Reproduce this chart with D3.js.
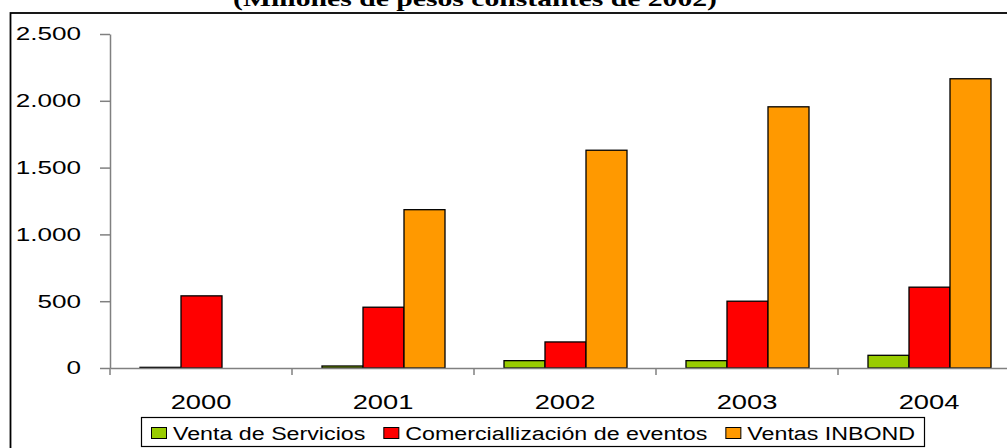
<!DOCTYPE html>
<html>
<head>
<meta charset="utf-8">
<script src="https://cdn.jsdelivr.net/npm/d3@7"></script>
<style>
  html, body { margin: 0; padding: 0; background: #fff; }
  svg { display: block; }
  .sans { font-family: "Liberation Sans", Arial, sans-serif; }
  .serif { font-family: "Liberation Serif", "Times New Roman", serif; }
</style>
</head>
<body>
<svg id="chart" width="1007" height="448"></svg>
<script>
const title = "(Millones de pesos constantes de 2002)";
const years = ["2000", "2001", "2002", "2003", "2004"];
const seriesNames = ["Venta de Servicios", "Comerciallización de eventos", "Ventas INBOND"];
const ventaServicios = [5, 15, 55, 55, 95];
const comercializacion = [540, 455, 195, 500, 605];
const ventasInbond = [0, 1185, 1630, 1955, 2165];
const yTicks = [0, 500, 1000, 1500, 2000, 2500];
const colors = ["#99CC00", "#FF0000", "#FF9900"];

const allSeries = [ventaServicios, comercializacion, ventasInbond];
const svg = d3.select("#chart");

function stretch(sel, factor) {
  sel.each(function () {
    const w = this.getComputedTextLength();
    d3.select(this).attr("textLength", w * factor).attr("lengthAdjust", "spacingAndGlyphs");
  });
}

// outer border
svg.append("rect")
  .attr("x", 10.5).attr("y", 13)
  .attr("width", 1100).attr("height", 500)
  .attr("fill", "none").attr("stroke", "#000").attr("stroke-width", 1.8);

// title (partly cut off at the top, as in the reference)
svg.append("text")
  .attr("class", "serif")
  .attr("x", 475).attr("y", 6)
  .attr("text-anchor", "middle")
  .attr("font-weight", "bold")
  .attr("font-size", 22)
  .attr("textLength", 484).attr("lengthAdjust", "spacingAndGlyphs")
  .text(title);

const x0 = d3.scaleBand().domain(years).range([110, 1020]).paddingInner(0).paddingOuter(0);
const x1 = d3.scaleBand().domain(d3.range(seriesNames.length)).range([30, x0.bandwidth() - 29]);
const y = d3.scaleLinear().domain([0, 2500]).range([368, 34]);

const loc = d3.formatLocale({ decimal: ",", thousands: ".", grouping: [3], currency: ["", ""] });
const fmt = loc.format(",d");

// bars
const g = svg.append("g");
years.forEach((yr, i) => {
  allSeries.forEach((s, j) => {
    const v = s[i];
    g.append("rect")
      .attr("x", x0(yr) + x1(j))
      .attr("y", y(v))
      .attr("width", x1.bandwidth())
      .attr("height", y(0) - y(v))
      .attr("fill", colors[j])
      .attr("stroke", "#000")
      .attr("stroke-width", 1.3);
  });
});

// y axis
const yAxis = svg.append("g")
  .attr("transform", "translate(110,0)")
  .call(d3.axisLeft(y).tickValues(yTicks).tickFormat(fmt).tickSize(10).tickSizeOuter(0));
yAxis.attr("font-family", null).attr("font-size", null);
yAxis.select(".domain").attr("stroke", "#808080").attr("stroke-width", 1.5);
yAxis.selectAll(".tick line").attr("stroke", "#808080").attr("stroke-width", 1.5);
yAxis.selectAll(".tick text")
  .attr("class", "sans")
  .attr("font-size", 18)
  .attr("fill", "#000")
  .attr("x", -29)
  .attr("dy", "0.33em");
stretch(yAxis.selectAll(".tick text"), 1.45);

// x axis
const xAxis = svg.append("g")
  .attr("transform", "translate(0,368)")
  .call(d3.axisBottom(x0).tickSize(0).tickSizeOuter(0));
xAxis.attr("font-family", null).attr("font-size", null);
xAxis.select(".domain").attr("stroke", "#808080").attr("stroke-width", 1.5);
xAxis.selectAll(".tick text")
  .attr("class", "sans")
  .attr("font-size", 21)
  .attr("fill", "#000")
  .attr("y", 41)
  .attr("dy", 0);
stretch(xAxis.selectAll(".tick text"), 1.3);
xAxis.selectAll(".sep")
  .data(years.concat(["end"]))
  .enter().append("line")
  .attr("class", "sep")
  .attr("x1", (d, i) => 110 + i * x0.bandwidth())
  .attr("x2", (d, i) => 110 + i * x0.bandwidth())
  .attr("y1", 0).attr("y2", 7)
  .attr("stroke", "#808080").attr("stroke-width", 1.5);

// legend
const legend = svg.append("g");
legend.append("rect")
  .attr("x", 141.5).attr("y", 417.5)
  .attr("width", 783).attr("height", 29)
  .attr("fill", "#fff").attr("stroke", "#000").attr("stroke-width", 1.2);
let lx = 151;
seriesNames.forEach((name, j) => {
  legend.append("rect")
    .attr("x", lx + 0.5).attr("y", 427.5)
    .attr("width", 15).attr("height", 11)
    .attr("fill", colors[j]).attr("stroke", "#000").attr("stroke-width", 1);
  const tx = legend.append("text")
    .attr("class", "sans")
    .attr("x", lx + 22).attr("y", 440)
    .attr("font-size", 18)
    .attr("fill", "#000")
    .text(name);
  stretch(tx, 1.29);
  const w = +tx.attr("textLength");
  lx = lx + 22 + w + 18;
});
</script>
</body>
</html>
